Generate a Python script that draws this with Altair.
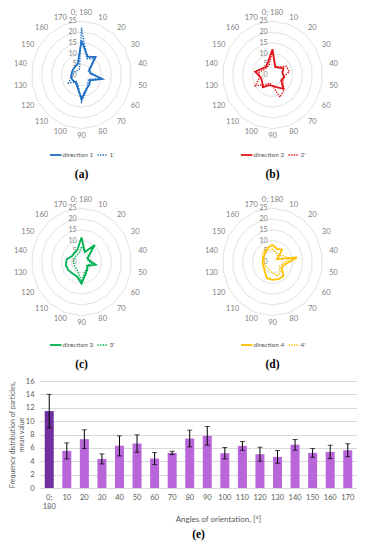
import altair as alt
import pandas as pd

# ---------------- data ----------------
categories = ["0; 180", "10", "20", "30", "40", "50", "60", "70", "80",
              "90", "100", "110", "120", "130", "140", "150", "160", "170"]

dir1 = [16, 9, 11, 4.5, 4.5, 10.5, 5, 6, 7, 11, 6, 4.5, 5, 5.3, 5, 5, 5, 5.5]
dir1p = [22, 8, 10, 4, 5, 10, 4, 5, 7.5, 12.5, 5, 4, 7.5, 5, 4, 3.5, 3, 3]
dir2 = [12, 4, 4.5, 6.3, 5, 6, 5, 8.4, 6, 5, 5, 7.5, 6, 6, 8.8, 6, 5, 6.5]
dir2p = [11, 4, 5, 8, 8.5, 5.5, 6, 9, 11, 5, 4, 6, 10, 6.5, 7, 5, 4.5, 5]
dir3 = [11.4, 5, 10.3, 3.5, 4, 7.2, 3.5, 4.5, 6, 10, 7, 7, 7.6, 8, 7.5, 5.5, 5.5, 6]
dir3p = [7, 5, 10, 3, 3.5, 5, 3, 4, 5, 9, 5, 4, 4, 4, 4, 4, 4, 4]
dir4 = [8, 6.5, 7.5, 2.6, 12.4, 6.3, 5.3, 8.5, 8.5, 8.3, 8, 6, 5, 5, 5, 5, 5.8, 7]
dir4p = [6, 5, 4, 6, 9, 5, 4, 6, 7, 5, 4, 4, 4, 4, 4, 6, 7, 6]

series_names = [("direction 1", "1'"), ("direction 2", "2'"),
                ("direction 3", "3'"), ("direction 4", "4'")]
series_values = [(dir1, dir1p), (dir2, dir2p), (dir3, dir3p), (dir4, dir4p)]
series_colors = ["#1F6FC5", "#E3151A", "#00B050", "#FFC000"]
captions = ["(a)", "(b)", "(c)", "(d)"]

ring_values = [5, 10, 15, 20, 25]
ring_label_values = [0, 5, 10, 15, 20, 25]

bar_mean = [11.5, 5.55, 7.3, 4.35, 6.3, 6.65, 4.4, 5.25, 7.4, 7.8,
            5.2, 6.3, 5.05, 4.65, 6.45, 5.25, 5.4, 5.65]
bar_err = [2.5, 1.2, 1.4, 0.75, 1.5, 1.3, 0.9, 0.25, 1.25, 1.4,
           0.85, 0.65, 1.05, 0.95, 0.8, 0.65, 1.0, 0.97]
bar_group = ["first"] + ["rest"] * 17

FONT = "Lato"
GRAY = "#7F7F7F"
W = 317          # width of radar block and bar plot
HR = 367         # height of radar block
N = len(categories)

# panel centres inside the radar block, and polar stretch (px per unit)
CX = "[41.5, 232.5, 41.5, 232.5][datum.panel]"
CY = "[65, 65, 252, 252][datum.panel]"
LEGY = "[145, 145, 335, 335][datum.panel]"
CAPY = "[165, 165, 355, 355][datum.panel]"
PX = "datum.cx + 2.0 * datum.value * sin(datum.idx * PI / 9)"
PY = "datum.cy - 2.15 * datum.value * cos(datum.idx * PI / 9)"

xs = alt.Scale(domain=[0, W], nice=False, zero=False)
ys = alt.Scale(domain=[0, HR], reverse=True, nice=False, zero=False)
X = alt.X("px:Q", scale=xs, axis=None)
Y = alt.Y("py:Q", scale=ys, axis=None)
COL = alt.Color("panel:N", scale=alt.Scale(domain=[0, 1, 2, 3], range=series_colors),
                legend=None)

# ---- rings
ring_df = pd.DataFrame([{"panel": p, "ring": r, "idx": i, "value": r}
                        for p in range(4) for r in ring_values for i in range(N + 1)])
rings = alt.Chart(ring_df).transform_calculate(cx=CX, cy=CY).transform_calculate(
    px=PX, py=PY).mark_line(color="#D9D9D9", strokeWidth=0.8).encode(
    x=X, y=Y, detail=["panel:N", "ring:N"], order=alt.Order("idx:Q"))

# ---- series lines
line_rows = []
for p in range(4):
    for kind, vals in zip(["solid", "dot"], series_values[p]):
        for i, v in enumerate(list(vals) + [vals[0]]):
            line_rows.append({"panel": p, "kind": kind, "idx": i, "value": v})
line_df = pd.DataFrame(line_rows)
line_base = alt.Chart(line_df).transform_calculate(cx=CX, cy=CY).transform_calculate(
    px=PX, py=PY)
solid_lines = line_base.transform_filter("datum.kind == 'solid'").mark_line(
    strokeWidth=1.8).encode(x=X, y=Y, color=COL, detail="panel:N",
                            order=alt.Order("idx:Q"))
dot_lines = line_base.transform_filter("datum.kind == 'dot'").mark_line(
    strokeWidth=1.4, strokeDash=[1.4, 1.2]).encode(x=X, y=Y, color=COL, detail="panel:N",
                                                   order=alt.Order("idx:Q"))

# ---- ring value labels
rl_df = pd.DataFrame([{"panel": p, "value": v, "label": str(v)}
                      for p in range(4) for v in ring_label_values])
ring_lab = alt.Chart(rl_df).transform_calculate(cx=CX, cy=CY).transform_calculate(
    px="datum.cx - 5", py="datum.cy - 2.15 * datum.value").mark_text(
    align="right", baseline="middle", fontSize=7, color=GRAY, font=FONT).encode(
    x=X, y=Y, text="label:N")

# ---- category labels
cat_df = pd.DataFrame([{"panel": p, "idx": i, "label": c}
                       for p in range(4) for i, c in enumerate(categories)])
cat_lab = alt.Chart(cat_df).transform_calculate(cx=CX, cy=CY).transform_calculate(
    px="datum.cx + 62 * sin(datum.idx * PI / 9)",
    py="datum.idx == 0 ? datum.cy - 62 : datum.cy - 61 * cos(datum.idx * PI / 9)").mark_text(
    align="center", baseline="middle", fontSize=7.5, color=GRAY, font=FONT).encode(
    x=X, y=Y, text="label:N")

# ---- legends and captions
leg_df = pd.DataFrame({"panel": list(range(4)),
                       "name_s": [s for s, _ in series_names],
                       "name_d": [d for _, d in series_names],
                       "caption": captions})
leg_base = alt.Chart(leg_df).transform_calculate(cx=CX, ly=LEGY, cap_y=CAPY).transform_calculate(
    s1="datum.cx - 31.5", s2="datum.cx - 20", t1="datum.cx - 19",
    d1="datum.cx + 16", d2="datum.cx + 26", t2="datum.cx + 28")
leg_solid = leg_base.mark_rule(strokeWidth=1.8).encode(
    x=alt.X("s1:Q", scale=xs, axis=None), x2="s2:Q",
    y=alt.Y("ly:Q", scale=ys, axis=None), color=COL)
leg_dot = leg_base.mark_rule(strokeWidth=1.4, strokeDash=[1.4, 1.2]).encode(
    x=alt.X("d1:Q", scale=xs, axis=None), x2="d2:Q",
    y=alt.Y("ly:Q", scale=ys, axis=None), color=COL)
leg_t1 = leg_base.mark_text(align="left", baseline="middle", fontSize=6.5,
                            color="#595959", font=FONT).encode(
    x=alt.X("t1:Q", scale=xs, axis=None), y=alt.Y("ly:Q", scale=ys, axis=None),
    text="name_s:N")
leg_t2 = leg_base.mark_text(align="left", baseline="middle", fontSize=6.5,
                            color="#595959", font=FONT).encode(
    x=alt.X("t2:Q", scale=xs, axis=None), y=alt.Y("ly:Q", scale=ys, axis=None),
    text="name_d:N")
caps = leg_base.mark_text(
    align="center", baseline="middle", fontSize=11.5, fontWeight="bold",
    font="Liberation Serif", color="black").encode(
    x=alt.X("cx:Q", scale=xs, axis=None), y=alt.Y("cap_y:Q", scale=ys, axis=None),
    text="caption:N")

radars = alt.layer(rings, ring_lab, cat_lab, solid_lines, dot_lines,
                   leg_solid, leg_dot, leg_t1, leg_t2, caps).properties(width=W, height=HR)

# ---------------- bar chart ----------------
bar_df = pd.DataFrame({"angle": categories, "mean": bar_mean,
                       "err": bar_err, "grp": bar_group})

yaxis = alt.Axis(values=list(range(0, 17, 2)), grid=True, gridColor="#D9D9D9",
                 domain=False, ticks=False, labelFontSize=7.5, labelColor="#595959",
                 labelPadding=6, labelFont=FONT,
                 title=["Frequency distribution of particles,", "mean value"],
                 titleFontSize=7, titleFontWeight="normal", titleColor="#595959",
                 titleFont=FONT, titlePadding=1, titleLineHeight=9)
yscale = alt.Scale(domain=[0, 16], nice=False)

xenc = alt.X("angle:N", sort=categories,
             scale=alt.Scale(paddingInner=0.487, paddingOuter=0.27),
             axis=alt.Axis(labelAngle=0, domain=False, ticks=False,
                           labelFontSize=7.5, labelColor="#595959", labelFont=FONT,
                           labelPadding=5,
                           labelExpr="datum.value == '0; 180' ? ['0;', '180'] : datum.label",
                           title="Angles of orientation, [°]", titleFontSize=8,
                           titleFontWeight="normal", titleColor="#595959",
                           titleFont=FONT, titlePadding=5, titleX=178))

base = alt.Chart(bar_df).encode(x=xenc).transform_calculate(
    lo="datum.mean - datum.err", hi="datum.mean + datum.err")

bars = base.mark_bar().encode(
    y=alt.Y("mean:Q", scale=yscale, axis=yaxis),
    color=alt.Color("grp:N", scale=alt.Scale(domain=["first", "rest"],
                                             range=["#7030A0", "#B866DA"]), legend=None))
err_rule = base.mark_rule(color="black", strokeWidth=1).encode(
    y=alt.Y("lo:Q", scale=yscale, axis=yaxis), y2="hi:Q")
cap_lo = base.mark_tick(color="black", thickness=1, size=5).encode(
    y=alt.Y("lo:Q", scale=yscale, axis=yaxis))
cap_hi = base.mark_tick(color="black", thickness=1, size=5).encode(
    y=alt.Y("hi:Q", scale=yscale, axis=yaxis))

E = alt.layer(bars, err_rule, cap_lo, cap_hi).properties(
    width=W, height=107,
    title=alt.TitleParams("(e)", orient="bottom", font="Liberation Serif",
                          fontSize=11.5, fontWeight="bold", color="black", offset=6))

chart = alt.vconcat(radars, E, spacing=0).resolve_scale(
    color="independent", x="independent", y="independent").properties(padding=0).configure(
    font=FONT, view=alt.ViewConfig(stroke=None))

chart.save("out.html", embed_options={"renderer": "svg", "actions": False})
